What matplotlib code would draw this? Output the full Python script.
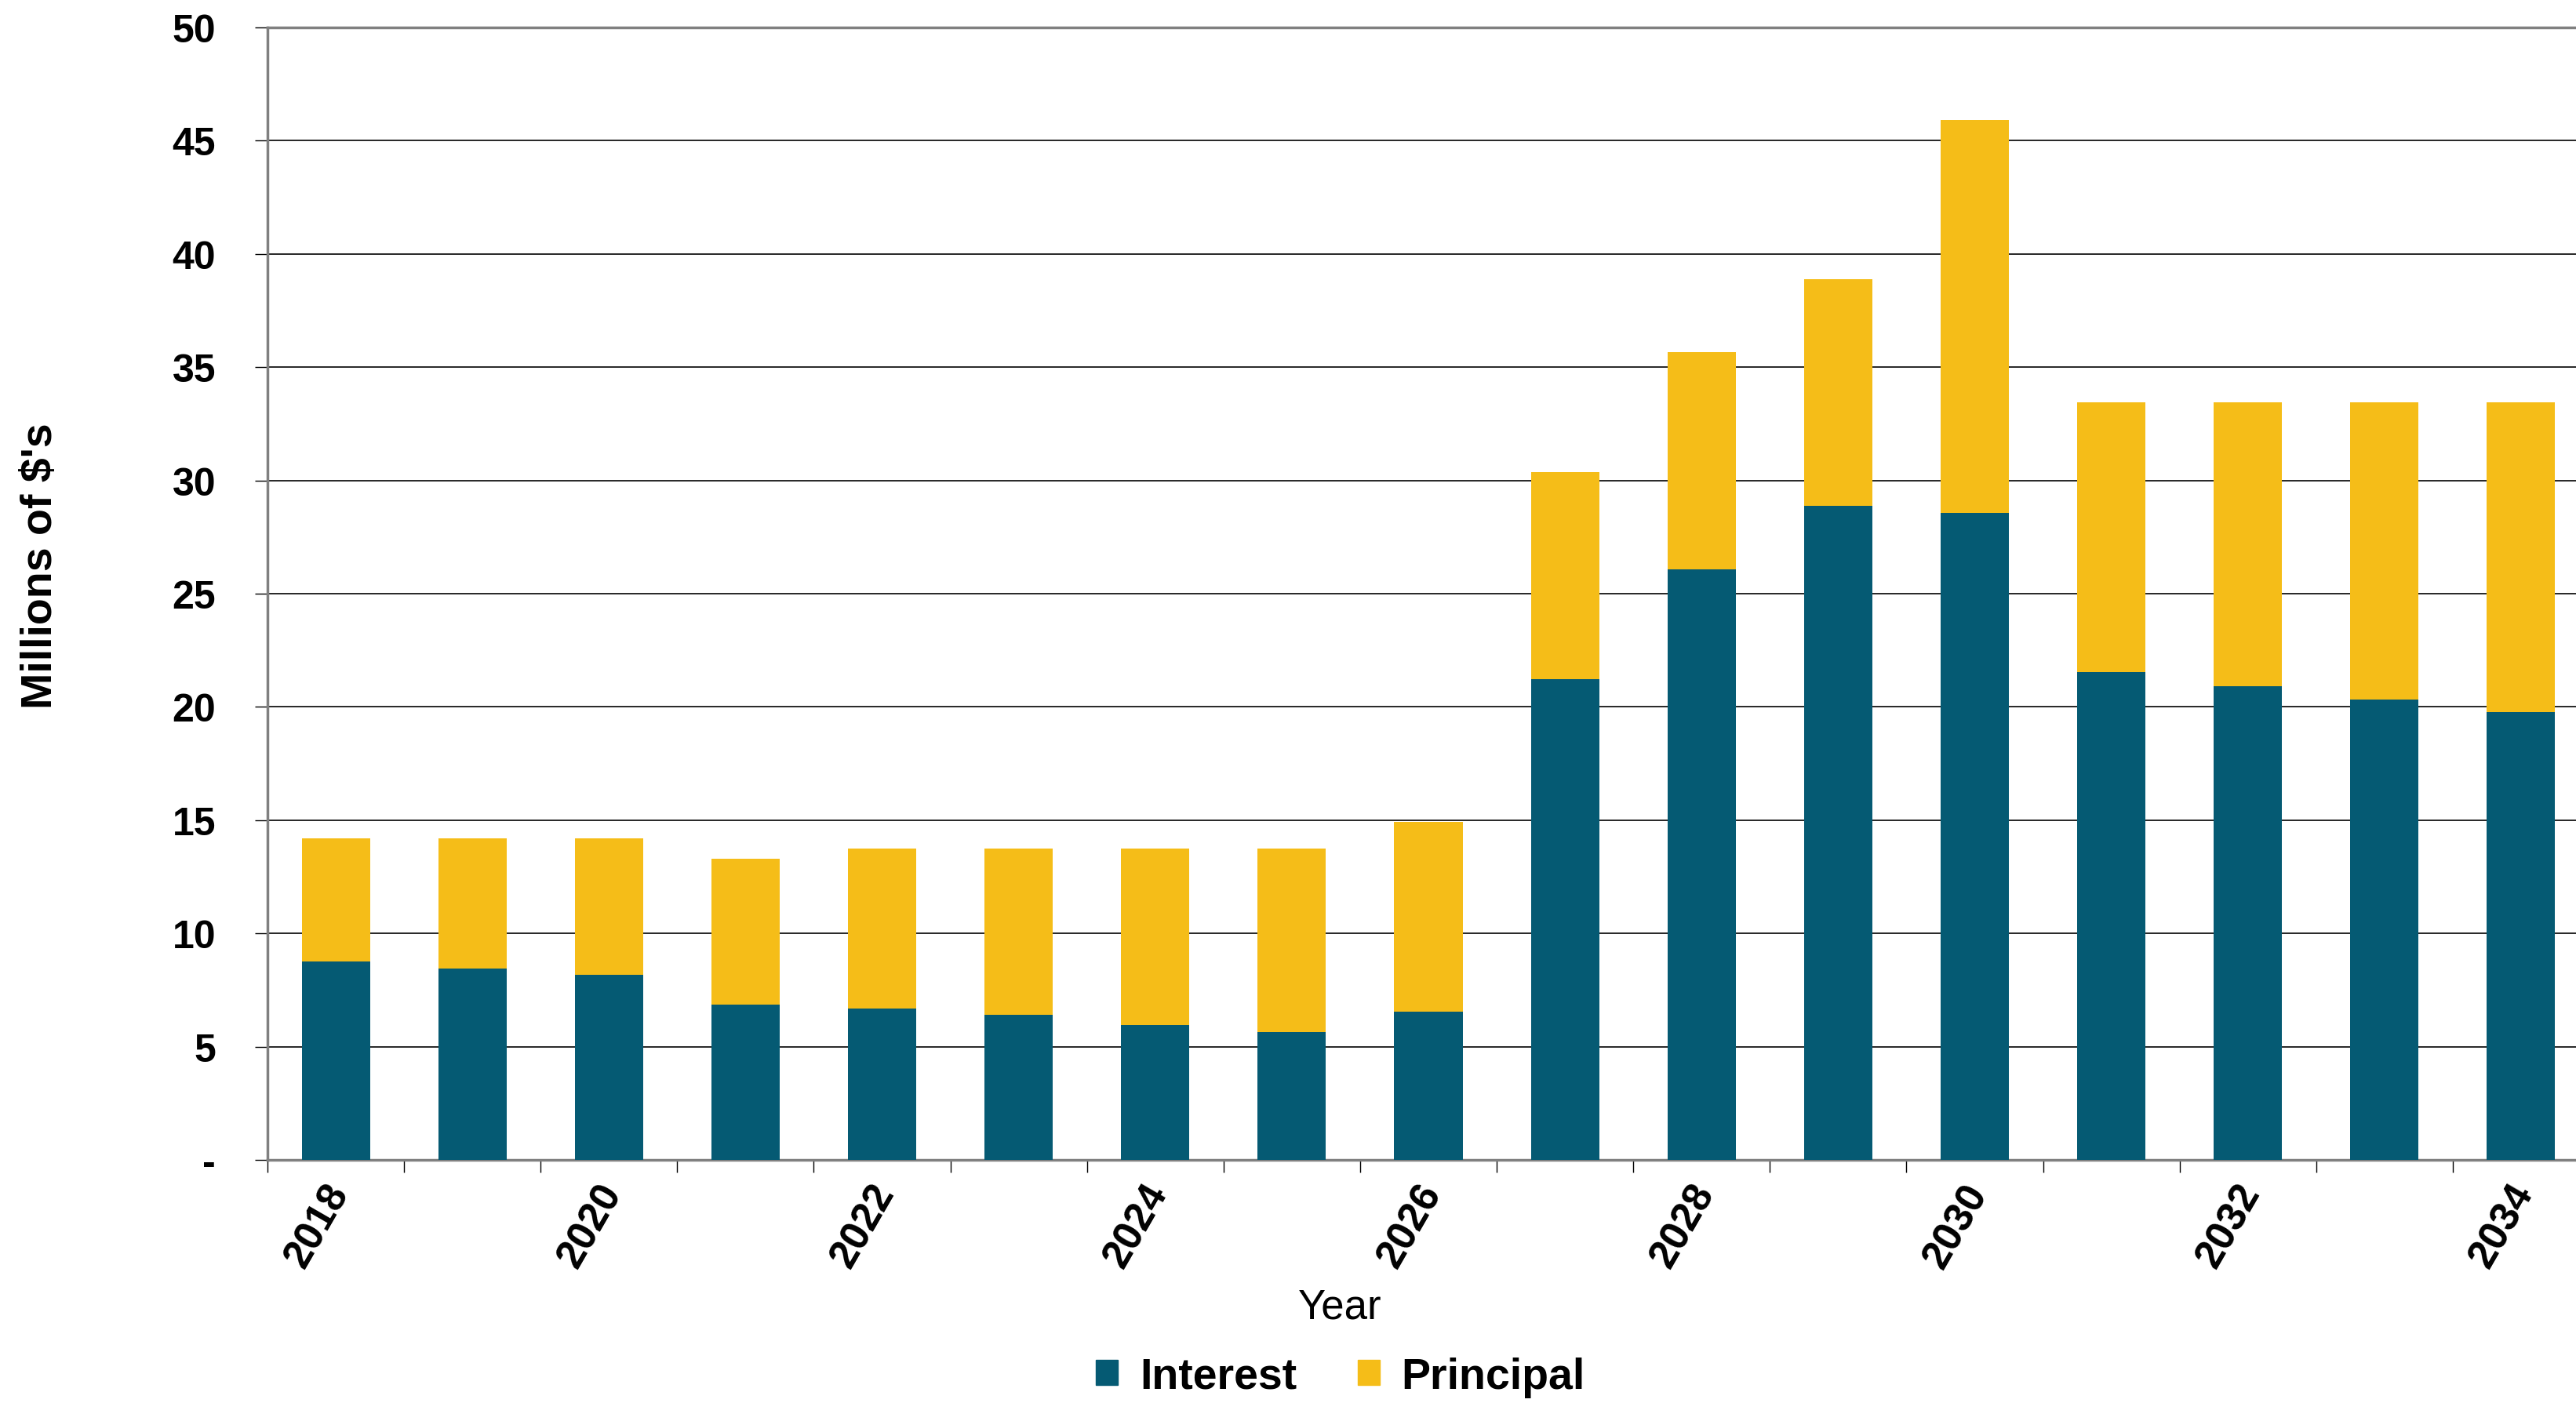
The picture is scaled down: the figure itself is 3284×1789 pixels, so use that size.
import numpy as np
import matplotlib
matplotlib.use('Agg')
import matplotlib.pyplot as plt
from matplotlib.patches import Patch
from matplotlib.transforms import ScaledTranslation

years = [2018, 2019, 2020, 2021, 2022, 2023, 2024, 2025, 2026,
         2027, 2028, 2029, 2030, 2031, 2032, 2033, 2034]
interest = [8.75, 8.46, 8.16, 6.84, 6.69, 6.40, 5.96, 5.66, 6.55,
            21.23, 26.09, 28.87, 28.58, 21.53, 20.93, 20.33, 19.78]
total = [14.2, 14.2, 14.2, 13.31, 13.75, 13.75, 13.75, 13.75, 14.93,
         30.36, 35.66, 38.89, 45.93, 33.45, 33.45, 33.45, 33.45]
principal = [t - i for t, i in zip(total, interest)]

ytick_vals = [0, 5, 10, 15, 20, 25, 30, 35, 40, 45, 50]
ytick_labels = ['-', '5', '10', '15', '20', '25', '30', '35', '40', '45', '50']

c_int = '#055a73'
c_pri = '#f5bd18'

plt.rcParams['font.family'] = ['Liberation Sans', 'DejaVu Sans']

fig = plt.figure(figsize=(32.84, 17.90), dpi=100)
ax = fig.add_axes([341/3284, 1-1480/1790, 2960/3284, 1444/1790])

x = np.arange(len(years))
ax.bar(x, interest, width=0.5, color=c_int, zorder=3)
ax.bar(x, principal, width=0.5, bottom=interest, color=c_pri, zorder=3)

ax.set_xlim(-0.5, len(years) - 0.5)
ax.set_ylim(0, 50)

# gridlines
ax.set_yticks(ytick_vals)
ax.set_yticklabels(ytick_labels, fontsize=36, fontweight='bold')
ax.yaxis.grid(True, color='#262626', linewidth=1.4, zorder=0)
ax.set_axisbelow(True)
ax.tick_params(axis='y', direction='out', length=11.5, width=1, color='black', pad=36)

# category boundaries as minor ticks, labels every second year
ax.set_xticks(x[::2])
ax.set_xticklabels([str(y) for y in years[::2]], fontsize=37, fontweight='bold',
                   rotation=60, ha='right', va='top')
ax.set_xticks(np.arange(len(years) + 1) - 0.5, minor=True)
ax.tick_params(axis='x', which='major', length=0, pad=16)
ax.tick_params(axis='x', which='minor', direction='out', length=11.5, width=1, color='black')
off = ScaledTranslation(26/100, 0, fig.dpi_scale_trans)
for lab in ax.get_xticklabels():
    lab.set_transform(lab.get_transform() + off)

for s in ['left', 'bottom', 'top']:
    ax.spines[s].set_color('#808080')
    ax.spines[s].set_linewidth(2.5)
ax.spines['right'].set_visible(False)

fig.text(52/3284, 1-722/1790, "Millions of $'s", rotation=90, fontsize=40,
         fontweight='bold', ha='center', va='center')
fig.text(1708/3284, 1-1668/1790, 'Year', fontsize=38, ha='center', va='center')

handles = [Patch(color=c_int, label='Interest'), Patch(color=c_pri, label='Principal')]
leg = fig.legend(handles=handles, loc='center', bbox_to_anchor=(1709/3284, 1-1757/1790),
                 ncol=2, frameon=False, handlelength=0.5, handleheight=0.5,
                 handletextpad=0.5, columnspacing=1.4,
                 prop={'size': 40, 'weight': 'bold'})

fig.savefig('out.png', dpi=100)
